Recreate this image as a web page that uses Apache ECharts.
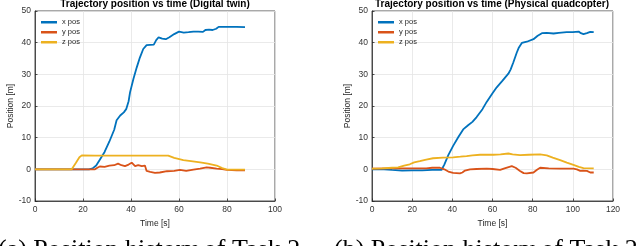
<!DOCTYPE html>
<html><head><meta charset="utf-8">
<script src="https://cdn.jsdelivr.net/npm/echarts@6/dist/echarts.min.js"></script>
<style>html,body{margin:0;padding:0;background:#fff;}#c{width:640px;height:246px;}</style>
</head><body><div id="c"></div>
<script>
// ---- Data (time [s], position [m]) ----
var titles = ['Trajectory position vs time (Digital twin)', 'Trajectory position vs time (Physical quadcopter)'];
var seriesNames = ['x pos', 'y pos', 'z pos'];
var xTicksLeft = {min: 0, max: 100, interval: 20};
var xTicksRight = {min: 0, max: 120, interval: 20};
var yTicks = {min: -10, max: 50, interval: 10};

var twinX = [[0,0],[22.5,0],[24,0.3],[25.5,1.2],[27,3.0],[29,5.5],[31,8.8],[33,12.5],[34,15.5],[35.5,17],[37,18],[38,19],[39,21.5],[39.6,24.3],[41,28.5],[42.4,32.2],[43.7,35.3],[45.1,38],[46.5,39.2],[48,39.3],[49.5,39.4],[50.5,40.8],[51.5,41.7],[53,41.3],[54.5,41.1],[56,41.7],[58,42.7],[60,43.5],[62,43.2],[64,43.3],[66,43.5],[68,43.5],[70,43.4],[71,44.0],[72.5,44.1],[74,44.0],[75.5,44.4],[76.5,45.0],[80,45.0],[84,45.0],[87.5,44.9]];
var twinY = [[0,0],[25,0],[26,0.5],[27,0.9],[29,0.8],[31,1.2],[33,1.3],[34.6,1.8],[36,1.3],[37.5,1.0],[39,1.5],[40.3,2.1],[41.7,1.0],[43,1.3],[44.5,1.0],[45,1.4],[45.8,1.2],[46.5,-0.5],[48,-0.8],[50,-1.1],[52,-1.0],[55,-0.6],[58,-0.5],[60.4,-0.2],[63,-0.5],[66,-0.1],[68.8,0.2],[71.5,0.6],[73,0.5],[75.7,0.2],[78,0.1],[80,-0.2],[84,-0.3],[87.5,-0.3]];
var twinZ = [[0,0],[15.3,0],[17,2.0],[18.5,3.8],[19.5,4.4],[25,4.3],[35,4.3],[45,4.3],[55.5,4.3],[58,3.6],[61.8,2.9],[65,2.6],[68.8,2.2],[72,1.8],[75.7,1.2],[78,0.4],[80,-0.1],[84,-0.1],[87.5,-0.1]];

var physX = [[0,0],[6,0],[10,-0.2],[15,-0.4],[20,-0.3],[25,-0.3],[30,-0.2],[34.6,-0.2],[36,1.5],[38,4.5],[40.4,7.4],[43,10.2],[45.4,12.6],[48,14.0],[50,15.0],[52.1,16.5],[55,19],[57.1,21.3],[60,24],[62.1,25.9],[65,28],[67.9,30.2],[69,31.5],[70.4,33.8],[72.1,36.9],[73,38.3],[74.6,39.9],[77.1,40.3],[80.4,41.1],[82.5,42.2],[84.6,43.0],[87,43.1],[90.4,42.9],[93,43.1],[96.9,43.3],[100,43.3],[102.9,43.5],[104,43.0],[105.3,42.7],[107,43.0],[108.7,43.4],[110.4,43.3]];
var physY = [[0,0.2],[10,0.3],[20,0.3],[27,0.3],[30,0.5],[33.8,0.5],[36,0],[38,-0.7],[40.4,-1.1],[43.8,-1.3],[45,-1.0],[46.3,-0.4],[48.8,0],[52,0.1],[57.1,0.2],[60,0.1],[63.8,-0.2],[66,0.3],[69.6,1.0],[71.5,0.5],[73.7,-0.5],[75.5,-1.2],[77.1,-1.3],[80.4,-1.0],[82,-0.2],[83.7,0.5],[88,0.3],[93.7,0.2],[100.3,0.2],[102,0],[103.7,-0.5],[105,-0.4],[107,-0.5],[108.7,-1.0],[110.4,-1.0]];
var physZ = [[0,0.2],[5,0.3],[10,0.5],[13,0.6],[13.8,1.0],[16,1.2],[18.8,1.6],[21,2.2],[23.8,2.6],[27,3.1],[30.4,3.5],[35.4,3.7],[40.4,3.8],[44,4.0],[47.1,4.2],[50,4.4],[53.8,4.6],[60.4,4.6],[64,4.7],[67.9,5.0],[70,4.7],[73.7,4.5],[78,4.6],[83.7,4.7],[87,4.4],[90,3.7],[93.7,2.9],[97,2.1],[100.3,1.4],[103,0.8],[105.3,0.4],[110.4,0.3]];

var captions = ['(a) Position history of Task 2', '(b) Position history of Task 2'];

// ---- Styling ----
var colors = ['#0072BD', '#D95319', '#EDB120'];
var FONT = '"Liberation Sans", Arial, sans-serif';
var axisCol = '#262626';
var gridCol = '#e4e4e4';

var chart = echarts.init(document.getElementById('c'), null, {renderer: 'canvas'});

function xAx(idx, t) {
  return {
    type: 'value', gridIndex: idx, min: t.min, max: t.max, interval: t.interval,
    name: 'Time [s]', nameLocation: 'middle', nameGap: 16,
    nameTextStyle: {fontFamily: FONT, fontSize: 8.5, color: axisCol},
    axisLine: {show: true, onZero: false, lineStyle: {color: axisCol, width: 0.8}},
    axisTick: {show: true, inside: true, length: 2.5, lineStyle: {color: axisCol, width: 0.8}},
    axisLabel: {fontFamily: FONT, fontSize: 8.5, color: '#333', margin: 4},
    splitLine: {show: true, lineStyle: {color: gridCol, width: 0.8}}
  };
}
function yAx(idx) {
  return {
    type: 'value', gridIndex: idx, min: yTicks.min, max: yTicks.max, interval: yTicks.interval,
    name: 'Position [m]', nameLocation: 'middle', nameGap: 20,
    nameTextStyle: {fontFamily: FONT, fontSize: 8.5, color: axisCol},
    axisLine: {show: true, onZero: false, lineStyle: {color: axisCol, width: 0.8}},
    axisTick: {show: true, inside: true, length: 2.5, lineStyle: {color: axisCol, width: 0.8}},
    axisLabel: {fontFamily: FONT, fontSize: 8.5, color: '#333', margin: 4},
    splitLine: {show: true, lineStyle: {color: gridCol, width: 0.8}}
  };
}
function line(name, data, gi, ci) {
  return {
    type: 'line', name: name, xAxisIndex: gi, yAxisIndex: gi, data: data,
    showSymbol: false, symbol: 'none', animation: false,
    lineStyle: {color: colors[ci], width: 1.8}, itemStyle: {color: colors[ci]}
  };
}
function legend(left) {
  return {
    data: seriesNames.map(function (n) { return {name: n, icon: 'rect'}; }),
    orient: 'vertical', left: left, top: 18, itemWidth: 16, itemHeight: 2.5, itemGap: 1.5,
    padding: 0, selectedMode: false,
    textStyle: {fontFamily: FONT, fontSize: 7.5, color: '#262626', lineHeight: 8.5}
  };
}

var option = {
  backgroundColor: '#fff',
  animation: false,
  title: [
    {text: titles[0], left: 155, top: -1, textAlign: 'center', padding: 0,
     textStyle: {fontFamily: FONT, fontSize: 10, fontWeight: 'bold', color: '#000'}},
    {text: titles[1], left: 492, top: -1, textAlign: 'center', padding: 0,
     textStyle: {fontFamily: FONT, fontSize: 10, fontWeight: 'bold', color: '#000'}}
  ],
  legend: [legend(41), legend(378)],
  grid: [
    {left: 35, top: 11, width: 240, height: 190, show: true, borderColor: axisCol, borderWidth: 0.8, backgroundColor: '#fff'},
    {left: 372, top: 11, width: 241, height: 190, show: true, borderColor: axisCol, borderWidth: 0.8, backgroundColor: '#fff'}
  ],
  xAxis: [xAx(0, xTicksLeft), xAx(1, xTicksRight)],
  yAxis: [yAx(0), yAx(1)],
  series: [
    line(seriesNames[0], twinX, 0, 0),
    line(seriesNames[1], twinY, 0, 1),
    line(seriesNames[2], twinZ, 0, 2),
    line(seriesNames[0], physX, 1, 0),
    line(seriesNames[1], physY, 1, 1),
    line(seriesNames[2], physZ, 1, 2)
  ],
  graphic: [
    {type: 'text', left: -2, top: 237, silent: true,
     style: {text: captions[0], font: '26px "Liberation Serif", "Times New Roman", serif', fill: '#000'}},
    {type: 'text', left: 334, top: 237, silent: true,
     style: {text: captions[1], font: '26px "Liberation Serif", "Times New Roman", serif', fill: '#000'}}
  ]
};
chart.setOption(option);
</script>
</body></html>
